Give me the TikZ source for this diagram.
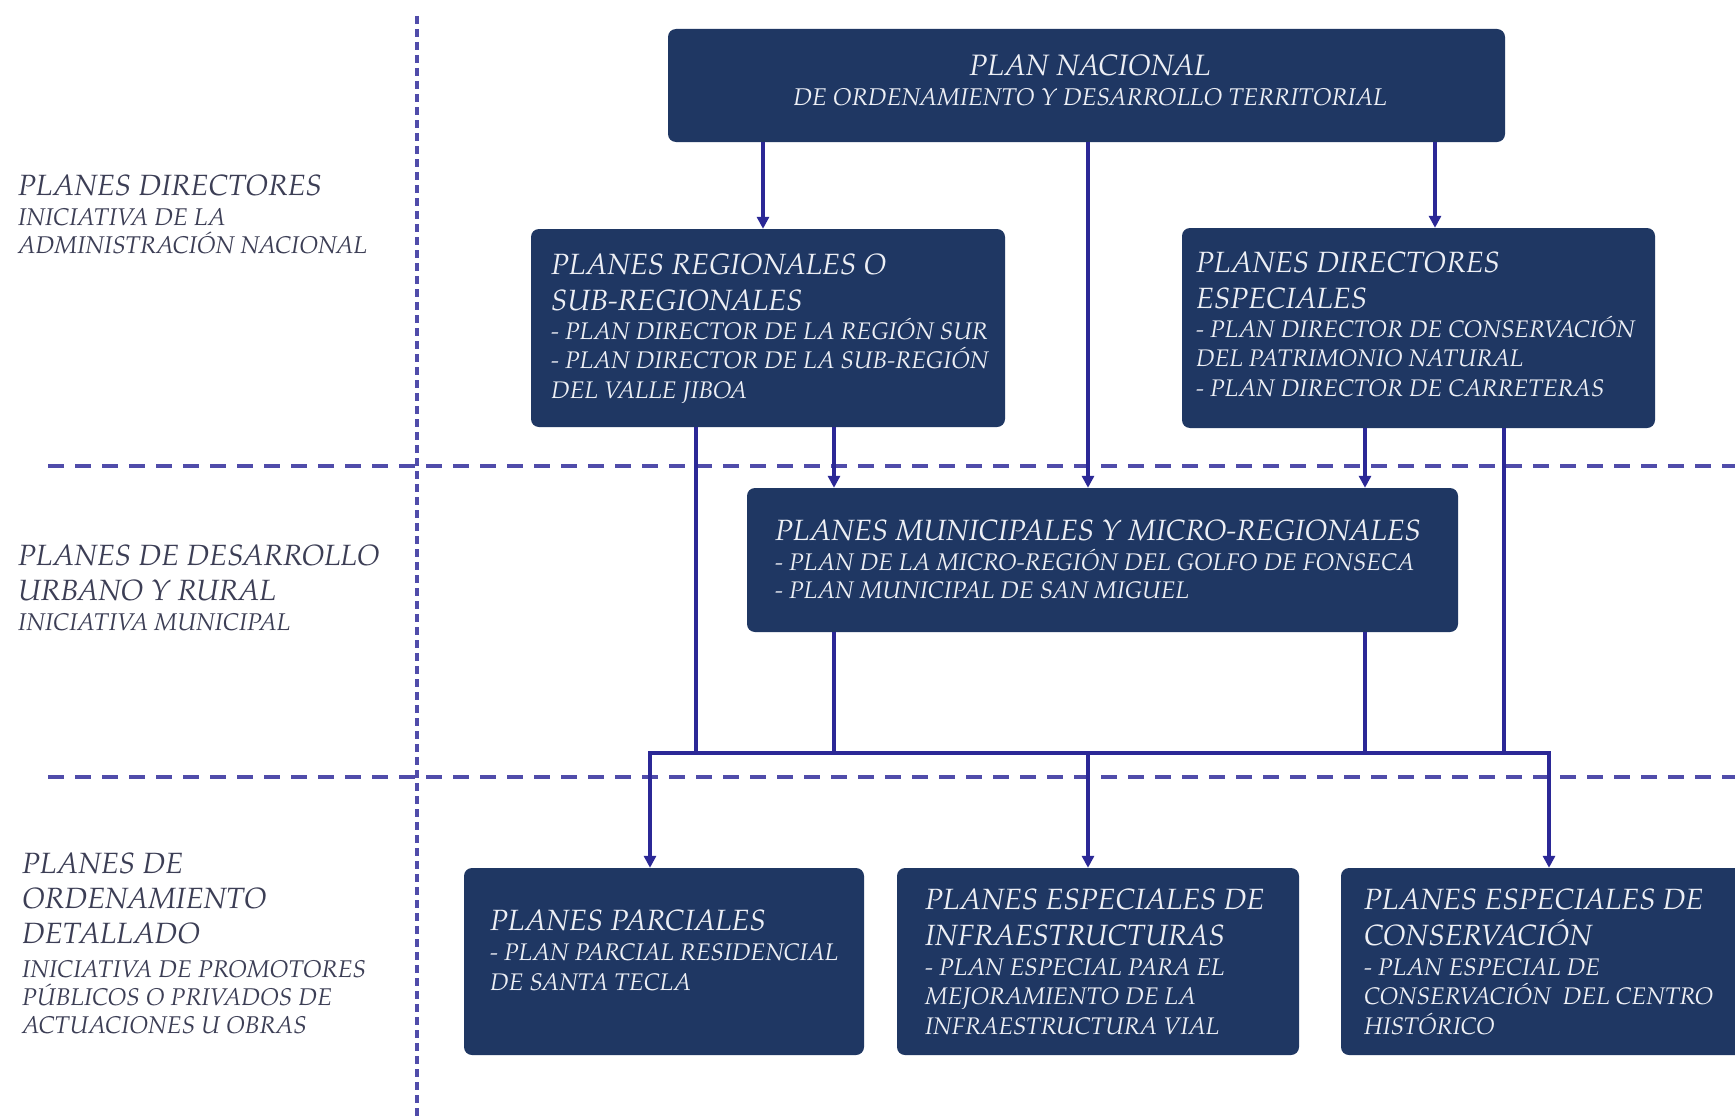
\documentclass[tikz,border=0pt]{standalone}
\usepackage{fontspec}
\setmainfont{TeX Gyre Pagella}
\usetikzlibrary{arrows.meta}
\definecolor{navy}{HTML}{1F3763}
\definecolor{boxtxt}{HTML}{EDEFF5}
\definecolor{conn}{HTML}{2B2896}
\definecolor{dashc}{HTML}{504CAA}
\definecolor{lbl}{HTML}{3C3E55}
% note: for multi-line nodes the base anchor is the baseline of the last line
\tikzset{
  planbox/.style={fill=navy, draw=none, rounded corners=8pt, inner sep=0pt},
  ttl/.style={anchor=base west, align=left, inner sep=0pt, text=boxtxt, font={\fontsize{29.3}{36}\selectfont\itshape}},
  bdy/.style={anchor=base west, align=left, inner sep=0pt, text=boxtxt, font={\fontsize{24}{29.5}\selectfont\itshape}},
  lttl/.style={anchor=base west, align=left, inner sep=0pt, text=lbl, font={\fontsize{29.3}{35}\selectfont\itshape}},
  lsub/.style={anchor=base west, align=left, inner sep=0pt, text=lbl, font={\fontsize{24.2}{28}\selectfont\itshape}},
  conline/.style={draw=conn, line width=3.5pt},
  conarrow/.style={draw=conn, line width=3.5pt, -{Triangle[length=12pt,width=12pt]}},
  hdash/.style={draw=dashc, line width=4pt, dash pattern=on 16pt off 11pt},
  vdash/.style={draw=dashc, line width=3.5pt, dash pattern=on 8pt off 5pt},
}
\begin{document}
\begin{tikzpicture}[x=1pt,y=-1pt]
\useasboundingbox (0,0) rectangle (1735,1116);
\clip (0,0) rectangle (1735,1116);
\fill[white] (0,0) rectangle (1735,1116);
% section dividers
\coordinate (vtop) at (417,16);
\coordinate (vbot) at (417,1120);
\draw[vdash] (vtop) -- (vbot);
\coordinate (h1a) at (48,466);
\coordinate (h1b) at (1740,466);
\coordinate (h2a) at (48,777);
\coordinate (h2b) at (1740,777);
\draw[hdash] (h1a) -- (h1b);
\draw[hdash] (h2a) -- (h2b);
% boxes
\node[planbox, minimum width=837pt, minimum height=113pt] (b1) at (1086.5,85.5) {};
\node[planbox, minimum width=474pt, minimum height=198pt] (b2) at (768,328) {};
\node[planbox, minimum width=473pt, minimum height=200pt] (b3) at (1418.5,328) {};
\node[planbox, minimum width=711pt, minimum height=144pt] (b4) at (1102.5,560) {};
\node[planbox, minimum width=400pt, minimum height=187pt] (b5) at (664,961.5) {};
\node[planbox, minimum width=402pt, minimum height=187pt] (b6) at (1098,961.5) {};
\node[planbox, minimum width=419pt, minimum height=187pt] (b7) at (1550.5,961.5) {};
% connector x positions
\coordinate (xa) at (763,0);
\coordinate (xm) at (1088,0);
\coordinate (xd) at (1435,0);
\coordinate (xe) at (834,0);
\coordinate (xf) at (1365,0);
\coordinate (xg) at (696,0);
\coordinate (xh) at (1504,0);
\coordinate (xl) at (650,0);
\coordinate (xr) at (1549,0);
\coordinate (bus) at (0,753);
% connectors from the national plan
\draw[conarrow] (b1.south -| xa) -- (b2.north -| xa);
\draw[conarrow] (b1.south -| xd) -- (b3.north -| xd);
\draw[conarrow] (b1.south -| xm) -- (b4.north -| xm);
\draw[conarrow] (b2.south -| xe) -- (b4.north -| xe);
\draw[conarrow] (b3.south -| xf) -- (b4.north -| xf);
% to the bus
\draw[conline] (b2.south -| xg) -- (bus -| xg);
\draw[conline] (b3.south -| xh) -- (bus -| xh);
\draw[conline] (b4.south -| xe) -- (bus -| xe);
\draw[conline] (b4.south -| xf) -- (bus -| xf);
\draw[conline] ([xshift=-1.75pt]bus -| xl) -- ([xshift=1.75pt]bus -| xr);
% from the bus
\draw[conarrow] ([yshift=-1.75pt]bus -| xl) -- (b5.north -| xl);
\draw[conarrow] (bus -| xm) -- (b6.north -| xm);
\draw[conarrow] ([yshift=-1.75pt]bus -| xr) -- (b7.north -| xr);
% box texts
\node[anchor=base, inner sep=0pt, text=boxtxt, font={\fontsize{29.5}{36}\selectfont\itshape}] (t1a) at (1090,75) {PLAN NACIONAL};
\node[anchor=base, inner sep=0pt, text=boxtxt, font={\fontsize{24.2}{30}\selectfont\itshape}] (t1b) at (1090,106) {DE ORDENAMIENTO Y DESARROLLO TERRITORIAL};
\node[ttl] (t2a) at (551,310) {PLANES REGIONALES O\\SUB-REGIONALES};
\node[bdy] (t2b) at (551,398) {- PLAN DIRECTOR DE LA REGIÓN SUR\\- PLAN DIRECTOR DE LA SUB-REGIÓN\\DEL VALLE JIBOA};
\node[ttl] (t3a) at (1196,308) {PLANES DIRECTORES\\ESPECIALES};
\node[bdy] (t3b) at (1196,396) {- PLAN DIRECTOR DE CONSERVACIÓN\\DEL PATRIMONIO NATURAL\\- PLAN DIRECTOR DE CARRETERAS};
\node[ttl] (t4a) at (775,540) {PLANES MUNICIPALES Y MICRO-REGIONALES};
\node[bdy, font={\fontsize{24}{28}\selectfont\itshape}] (t4b) at (775,598) {- PLAN DE LA MICRO-REGIÓN DEL GOLFO DE FONSECA\\- PLAN MUNICIPAL DE SAN MIGUEL};
\node[ttl] (t5a) at (490,930) {PLANES PARCIALES};
\node[bdy] (t5b) at (490,990) {- PLAN PARCIAL RESIDENCIAL\\DE SANTA TECLA};
\node[ttl] (t6a) at (925,945) {PLANES ESPECIALES DE\\INFRAESTRUCTURAS};
\node[bdy] (t6b) at (925,1034) {- PLAN ESPECIAL PARA EL\\MEJORAMIENTO DE LA\\INFRAESTRUCTURA VIAL};
\node[ttl] (t7a) at (1364,945) {PLANES ESPECIALES DE\\CONSERVACIÓN};
\node[bdy] (t7b) at (1364,1034) {- PLAN ESPECIAL DE\\CONSERVACIÓN\ \ DEL CENTRO\\HISTÓRICO};
% left labels
\node[lttl] (l1a) at (18,195) {PLANES DIRECTORES};
\node[lsub] (l1b) at (18,253) {INICIATIVA DE LA\\ADMINISTRACIÓN NACIONAL};
\node[lttl] (l2a) at (18,600) {PLANES DE DESARROLLO\\URBANO Y RURAL};
\node[lsub] (l2b) at (18,630) {INICIATIVA MUNICIPAL};
\node[lttl] (l3a) at (22,943) {PLANES DE\\ORDENAMIENTO\\DETALLADO};
\node[lsub] (l3b) at (22,1033) {INICIATIVA DE PROMOTORES\\PÚBLICOS O PRIVADOS DE\\ACTUACIONES U OBRAS};
\end{tikzpicture}
\end{document}
